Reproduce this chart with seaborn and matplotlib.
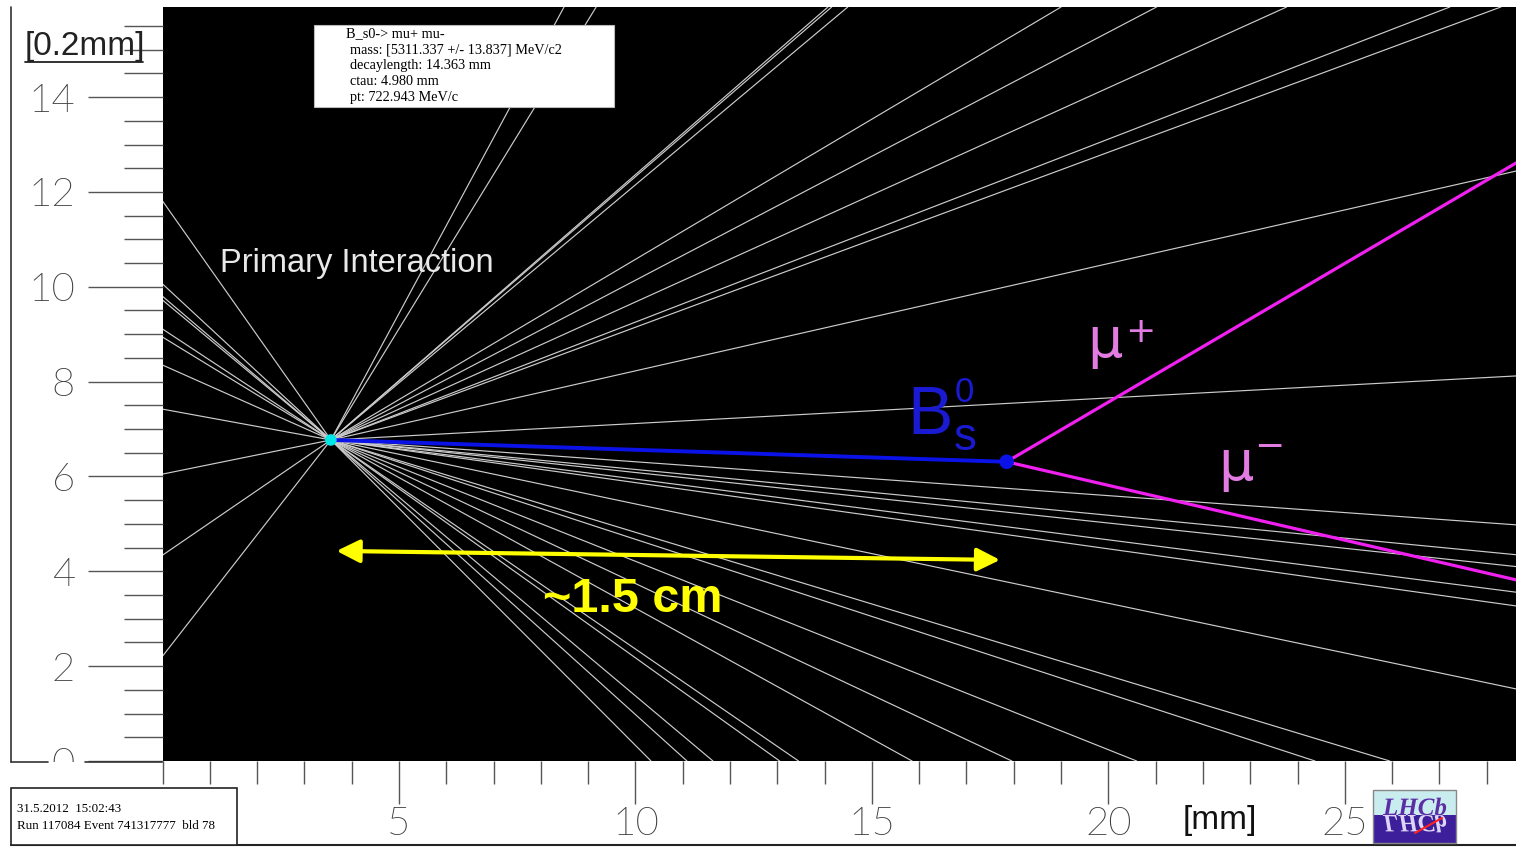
import numpy as np
import pandas as pd
import matplotlib
matplotlib.use("Agg")
import matplotlib.pyplot as plt
import seaborn as sns
from matplotlib import font_manager
from matplotlib.patches import Rectangle, PathPatch
from matplotlib.lines import Line2D
from matplotlib.textpath import TextPath
from matplotlib.font_manager import FontProperties
from matplotlib.transforms import Affine2D

# ---------------- event data ----------------
# vertices: x in mm, y in units of 0.2 mm
pv_x, pv_y = 3.56, 6.77          # primary interaction
sv_x, sv_y = 17.85, 6.31         # B_s0 decay vertex

# prompt tracks leaving the primary vertex (end points at the view edges)
track_end_x = [0.0, 0.0, 0.0, 0.0, 0.0, 0.0, 0.0, 0.0, 0.0, 0.0, 0.0,
               28.62, 28.62, 28.62, 28.62, 28.62, 28.62, 28.62, 28.62,
               10.33, 11.09, 11.64, 13.05, 13.45, 15.85, 17.96, 20.60, 24.37, 25.95,
               8.49, 9.17, 14.07, 14.15, 14.49, 19.00, 21.02, 23.77, 27.22, 28.30]
track_end_y = [11.81, 10.06, 9.80, 9.72, 9.11, 8.94, 8.35, 7.42, 6.05, 4.34, 2.21,
               12.44, 8.12, 4.98, 4.35, 4.10, 3.56, 3.27, 1.52,
               0.0, 0.0, 0.0, 0.0, 0.0, 0.0, 0.0, 0.0, 0.0, 0.0,
               15.9, 15.9, 15.9, 15.9, 15.9, 15.9, 15.9, 15.9, 15.9, 15.9]

# muons from the B_s0 decay
muon_names = ["mu+", "mu-"]
muon_end_x = [28.62, 28.62]
muon_end_y = [12.61, 3.82]

# flight-distance marker
ruler_x = [3.68, 17.71]
ruler_y = [4.43, 4.24]

x_major = [5, 10, 15, 20, 25]
x_minor = [v for v in range(0, 29) if v % 5 != 0 or v == 0]
y_major = [0, 2, 4, 6, 8, 10, 12, 14]
y_minor = [v / 2 for v in range(1, 32) if v % 4 != 0]

info_lines = ["B_s0-> mu+ mu-",
              "mass: [5311.337 +/- 13.837] MeV/c2",
              "decaylength: 14.363 mm",
              "ctau: 4.980 mm",
              "pt: 722.943 MeV/c"]
run_lines = ["31.5.2012  15:02:43",
             "Run 117084 Event 741317777  bld 78"]

# ---------------- style ----------------
sns.set_theme(style="white")
plt.rcParams["font.family"] = ["Liberation Sans", "DejaVu Sans"]


def thin_font():
    prefs = ["Lato", "Roboto", "Open Sans", "Inter", "Noto Sans", "DejaVu Sans"]
    for fam in prefs:
        for f in font_manager.fontManager.ttflist:
            w = f.weight
            if isinstance(w, str):
                w = font_manager.weight_dict.get(w, 400)
            if f.name == fam and f.style == "normal" and w <= 300:
                return fam, w
    return "DejaVu Sans", "normal"


thin_family, thin_weight = thin_font()

W, H = 1516, 848
fig = plt.figure(figsize=(W / 100, H / 100), dpi=100, facecolor="white")


def fx(px):
    return px / W


def fy(py):
    return 1 - py / H


ax = fig.add_axes([fx(162.5), fy(761), fx(1516) - fx(162.5), fy(7) - fy(761)])
ax.set_facecolor("black")
ax.set_xlim(0, 28.62)
ax.set_ylim(0, 15.9)
ax.grid(False)
for s in ax.spines.values():
    s.set_visible(False)

# prompt tracks
n = len(track_end_x)
tracks = pd.DataFrame({
    "track": np.repeat(np.arange(n), 2),
    "x": np.column_stack([np.full(n, pv_x), track_end_x]).ravel(),
    "y": np.column_stack([np.full(n, pv_y), track_end_y]).ravel(),
})
sns.lineplot(data=tracks, x="x", y="y", units="track", estimator=None, sort=False,
             color="#cccccc", linewidth=0.85, ax=ax, legend=False)

# B_s0 flight
bs = pd.DataFrame({"x": [pv_x, sv_x], "y": [pv_y, sv_y]})
sns.lineplot(data=bs, x="x", y="y", sort=False, color="#0b12e8", linewidth=2.8,
             ax=ax, legend=False)

# muons
mu = pd.DataFrame({
    "muon": np.repeat(muon_names, 2),
    "x": np.column_stack([np.full(2, sv_x), muon_end_x]).ravel(),
    "y": np.column_stack([np.full(2, sv_y), muon_end_y]).ravel(),
})
sns.lineplot(data=mu, x="x", y="y", units="muon", estimator=None, sort=False,
             color="#f020f0", linewidth=2.3, ax=ax, legend=False)

# vertices
sns.scatterplot(x=[pv_x], y=[pv_y], color="#00e5e5", s=70, edgecolor="none", ax=ax, zorder=5)
sns.scatterplot(x=[sv_x], y=[sv_y], color="#0b12e8", s=110, edgecolor="none", ax=ax, zorder=5)

# flight distance ruler
ax.annotate("", xy=(ruler_x[1], ruler_y[1]), xytext=(ruler_x[0], ruler_y[0]),
            arrowprops=dict(arrowstyle="<|-|>,head_length=0.7,head_width=0.35",
                            color="#ffff00", lw=3, mutation_scale=20,
                            shrinkA=0, shrinkB=0), zorder=6)
ax.text(9.95, 3.40, "~1.5 cm", color="#ffff00", fontsize=35, fontweight="bold",
        ha="center", va="center", zorder=6)

ax.text(1.22, 10.50, "Primary Interaction", color="#e8e8e8", fontsize=23.5,
        ha="left", va="center", zorder=6)

# particle labels
bs_col = "#1a1ad2"
ax.text(15.74, 6.90, "B", color=bs_col, fontsize=49, ha="left", va="baseline", zorder=6)
ax.text(16.73, 6.56, "s", color=bs_col, fontsize=33, ha="left", va="baseline", zorder=6)
ax.text(16.74, 7.57, "0", color=bs_col, fontsize=25, ha="left", va="baseline", zorder=6)

mu_col = "#e27be2"
ax.text(19.55, 8.52, "\u03bc", color=mu_col, fontsize=40, family="DejaVu Sans",
        ha="left", va="baseline", zorder=6)
ax.text(20.68, 9.05, "+", color=mu_col, fontsize=26, family="DejaVu Sans",
        ha="center", va="center", zorder=6)
ax.text(22.32, 5.93, "\u03bc", color=mu_col, fontsize=40, family="DejaVu Sans",
        ha="left", va="baseline", zorder=6)
ax.text(23.40, 6.62, "\u2212", color=mu_col, fontsize=26, family="DejaVu Sans",
        ha="center", va="center", zorder=6)

ax.set_xlabel("")
ax.set_ylabel("")

# ruler ticks
tick_txt = dict(fontsize=29, fontfamily=thin_family, fontweight=thin_weight, color="#3c3c3c")
ax.set_xticks(x_major, labels=[str(v) for v in x_major], **tick_txt)
ax.set_xticks(x_minor, minor=True)
ax.set_yticks(y_major, labels=[str(v) for v in y_major], **tick_txt)
ax.set_yticks(y_minor, minor=True)
ax.tick_params(axis="x", which="major", direction="out", length=31, width=1,
               color="#555555", pad=1.5, bottom=True)
ax.tick_params(axis="x", which="minor", direction="out", length=16.5, width=1,
               color="#555555", bottom=True)
ax.tick_params(axis="y", which="major", direction="out", length=54, width=1,
               color="#555555", pad=9, left=True)
ax.tick_params(axis="y", which="minor", direction="out", length=28, width=1,
               color="#555555", left=True)

# ---------------- frame furniture ----------------
def fig_line(x0, y0, x1, y1, **kw):
    fig.add_artist(Line2D([fx(x0), fx(x1)], [fy(y0), fy(y1)], transform=fig.transFigure, **kw))


# hide the lower half of the "0" ruler label
fig.add_artist(Rectangle((fx(12), fy(787)), fx(161) - fx(12), fy(762) - fy(787),
                         transform=fig.transFigure, facecolor="white", edgecolor="none", zorder=2))

fig_line(11, 7, 11, 762, color="#333333", lw=1.2, zorder=3)
fig_line(11, 762, 48, 762, color="#333333", lw=1.2, zorder=3)
fig_line(85, 762, 162, 762, color="#333333", lw=1.2, zorder=3)
fig_line(11, 845, 1516, 845, color="#222222", lw=1.5, zorder=3)

fig.text(fx(25), fy(46), "[0.2mm]", fontsize=24, color="#222222", ha="left", va="center")
fig_line(25, 62, 143, 62, color="#222222", lw=1.3, zorder=3)
fig.text(fx(1220), fy(820), "[mm]", fontsize=24, color="#111111", ha="center", va="center")

# candidate information box
fig.add_artist(Rectangle((fx(314), fy(107)), fx(614) - fx(314), fy(25) - fy(107),
                         transform=fig.transFigure, facecolor="white", edgecolor="#bbbbbb",
                         lw=0.8, zorder=4))
for i, line in enumerate(info_lines):
    fig.text(fx(346 if i == 0 else 350), fy(37 + 16 * i), line, fontsize=10.3,
             family="Liberation Serif", color="black", ha="left", va="baseline", zorder=5)

# run information box
fig.add_artist(Rectangle((fx(11), fy(845)), fx(237) - fx(11), fy(788) - fy(845),
                         transform=fig.transFigure, facecolor="white", edgecolor="#222222",
                         lw=1.2, zorder=4))
for i, line in enumerate(run_lines):
    fig.text(fx(17), fy(812 + 17 * i), line, fontsize=9.4, family="Liberation Serif",
             color="black", ha="left", va="baseline", zorder=5)

# experiment logo
fig.add_artist(Rectangle((fx(1373), fy(815)), fx(1456) - fx(1373), fy(790) - fy(815),
                         transform=fig.transFigure, facecolor="#c9ecef", edgecolor="none", zorder=4))
fig.add_artist(Rectangle((fx(1373), fy(843)), fx(1456) - fx(1373), fy(815) - fy(843),
                         transform=fig.transFigure, facecolor="#3d1f9b", edgecolor="none", zorder=4))
fig.add_artist(Rectangle((fx(1373), fy(843)), fx(1456) - fx(1373), fy(790) - fy(843),
                         transform=fig.transFigure, facecolor="none", edgecolor="#888888",
                         lw=1, zorder=6))
logo_prop = FontProperties(family="Liberation Serif", style="italic", weight="bold")
logo_path = TextPath((0, 0), "LHCb", size=25, prop=logo_prop)
fig.add_artist(PathPatch(logo_path, transform=Affine2D().scale(1, -1).translate(1383, H - 815),
                         facecolor="#ddd5f5", edgecolor="none", zorder=5))
fig.add_artist(PathPatch(logo_path, transform=Affine2D().translate(1383, H - 815),
                         facecolor="#5b2ea6", edgecolor="none", zorder=5))
fig_line(1415, 833, 1442, 818, color="#ff2020", lw=1.5, zorder=6)

fig.savefig("out.png", dpi=100, facecolor="white")
